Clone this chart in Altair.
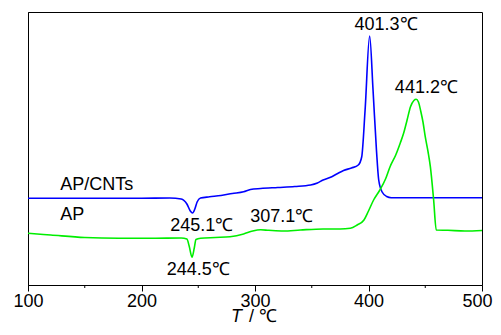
import altair as alt
import pandas as pd

# AP/CNTs curve (blue) : temperature (°C) and heat flow (arbitrary units)
cnt_T = [100, 150, 200, 225, 235, 240, 243, 245, 247, 249, 252, 260, 270, 280, 290, 296,
         305, 320, 335, 349, 355, 360, 366, 372, 378, 385, 391, 394, 397, 401, 404, 407,
         409, 412, 416, 420, 450, 500]
cnt_hf = [86.7, 86.7, 86.8, 87.0, 86.0, 81.0, 74.0, 72.0, 76.0, 83.0, 87.0, 88.2, 89.5,
          91.5, 93.3, 95.5, 96.5, 97.5, 98.5, 100.0, 102.0, 105.0, 107.5, 111.0, 114.5,
          117.0, 120.0, 128.0, 175.0, 249.0, 195.0, 135.0, 105.0, 93.0, 88.5, 87.3, 87.3, 87.3]

# AP curve (green)
ap_T = [100, 120, 150, 180, 210, 235, 240, 242, 244.5, 246.5, 248, 252, 265, 278, 290,
        298, 305, 312, 325, 340, 360, 375, 384, 390, 396, 400, 404.5, 410, 415, 419, 424,
        428, 431, 434, 437, 440, 442, 444, 446, 448, 450, 452.5, 454.5, 457.4, 459.7, 470,
        485, 500]
ap_hf = [51.7, 50.0, 47.5, 46.7, 46.7, 47.0, 46.0, 39.0, 27.7, 37.0, 45.5, 46.7, 47.5,
         48.3, 51.0, 54.0, 55.2, 54.7, 54.0, 55.0, 56.0, 56.0, 56.7, 60.0, 65.0, 74.0,
         85.0, 95.0, 106.0, 118.3, 130.0, 142.0, 152.0, 165.0, 178.3, 184.5, 185.7, 183.0,
         174.0, 163.0, 148.3, 133.0, 118.3, 85.0, 55.0, 54.7, 54.0, 54.5]

# annotations
ann_text = ["401.3\u2103", "441.2\u2103", "245.1\u2103", "307.1\u2103", "244.5\u2103"]
ann_T = [415.5, 451, 253, 323.6, 250]
ann_hf = [260, 197.5, 59, 68.5, 15.5]

name_text = ["AP/CNTs", "AP"]
name_T = [128.5, 128.5]
name_hf = [100.5, 70]

major_ticks = [100, 200, 300, 400, 500]
minor_ticks = [150, 250, 350, 450]

W, H = 454, 273
FONT = "Liberation Sans"
FS = 18

cnt_df = pd.DataFrame({"T": cnt_T, "hf": cnt_hf})
ap_df = pd.DataFrame({"T": ap_T, "hf": ap_hf})
ann_df = pd.DataFrame({"T": ann_T, "hf": ann_hf, "label": ann_text})
name_df = pd.DataFrame({"T": name_T, "hf": name_hf, "label": name_text})
minor_df = pd.DataFrame({"T": minor_ticks})

xscale = alt.Scale(domain=[100, 500], nice=False)
yscale = alt.Scale(domain=[0, 273], nice=False)

xaxis = alt.Axis(values=major_ticks, title=None, tickSize=6, tickColor="black",
                 domainColor="black", labelFontSize=FS, labelFont=FONT,
                 labelColor="black", grid=False, labelPadding=1, tickWidth=1,
                 labelFlush=False, labelOverlap=False,
                 labelOffset={"condition": {"test": "datum.value == 500", "value": -5},
                              "value": 0})
yaxis = alt.Axis(labels=False, ticks=False, title=None, grid=False, domainColor="black")

cnt_line = alt.Chart(cnt_df).mark_line(color="#0000ff", strokeWidth=1.6, interpolate="monotone").encode(
    x=alt.X("T:Q", scale=xscale, axis=xaxis),
    y=alt.Y("hf:Q", scale=yscale, axis=yaxis),
)
ap_line = alt.Chart(ap_df).mark_line(color="#00ee00", strokeWidth=1.6, interpolate="monotone").encode(
    x=alt.X("T:Q", scale=xscale),
    y=alt.Y("hf:Q", scale=yscale),
)
ann = alt.Chart(ann_df).mark_text(fontSize=FS, font=FONT, color="black", align="center",
                                  baseline="middle").encode(
    x=alt.X("T:Q", scale=xscale), y=alt.Y("hf:Q", scale=yscale), text="label:N")
names = alt.Chart(name_df).mark_text(fontSize=FS, font=FONT, color="black", align="left",
                                     baseline="middle").encode(
    x=alt.X("T:Q", scale=xscale), y=alt.Y("hf:Q", scale=yscale), text="label:N")
minor = alt.Chart(minor_df).mark_rule(color="black", strokeWidth=1).encode(
    x=alt.X("T:Q", scale=xscale), y=alt.value(H), y2=alt.value(H + 3))

title_T = alt.Chart(pd.DataFrame({"t": ["T"]})).mark_text(
    fontSize=FS, font=FONT, fontStyle="italic", align="right", baseline="middle", color="black"
).encode(x=alt.value(214), y=alt.value(H + 32), text="t:N")
title_rest = alt.Chart(pd.DataFrame({"t": ["/ \u2103"]})).mark_text(
    fontSize=FS, font=FONT, align="left", baseline="middle", color="black"
).encode(x=alt.value(221), y=alt.value(H + 32), text="t:N")

chart = alt.layer(cnt_line, ap_line, ann, names, minor, title_T, title_rest).properties(
    width=W, height=H,
    autosize=alt.AutoSizeParams(type="none"),
    padding={"left": 20, "top": 4, "right": 11, "bottom": 42},
).configure_view(stroke="black", strokeWidth=1)

chart.save("out.html", embed_options={"renderer": "svg", "actions": False})
